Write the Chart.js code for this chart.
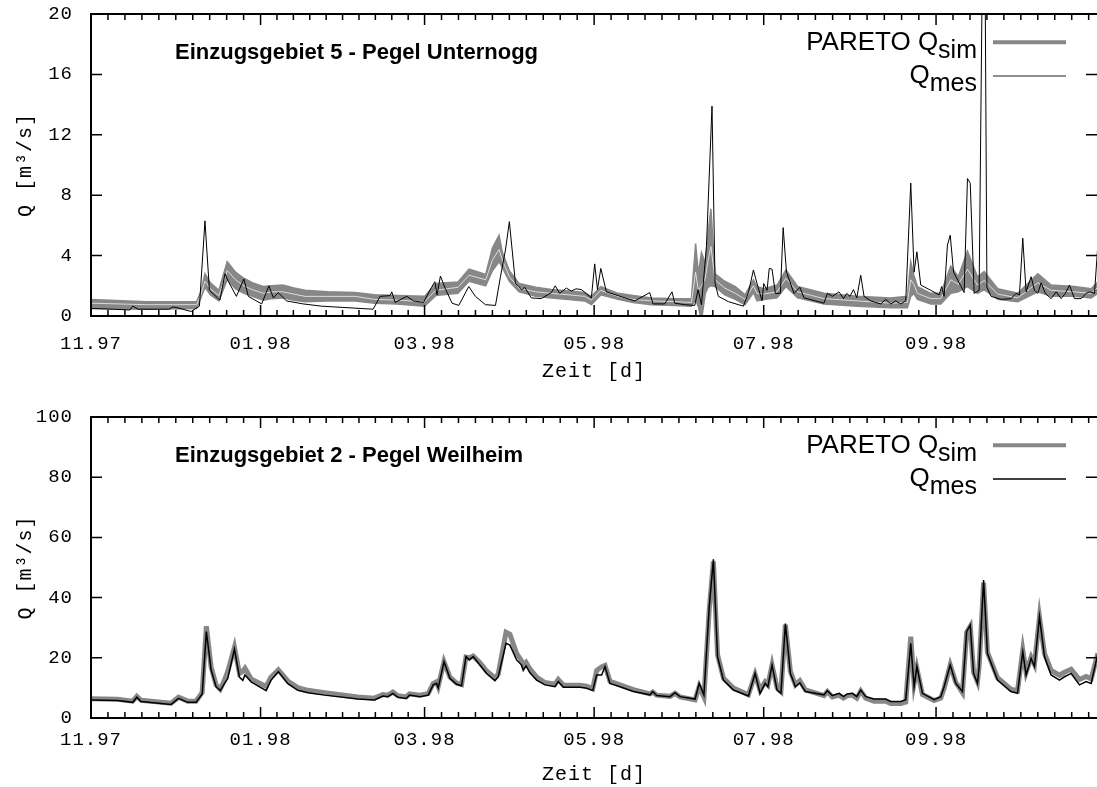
<!DOCTYPE html>
<html>
<head>
<meta charset="utf-8">
<script src="https://cdn.jsdelivr.net/npm/chart.js@4.4.1/dist/chart.umd.min.js"></script>
<style>
html, body { margin: 0; padding: 0; background: #fff; overflow: hidden; width: 1097px; height: 787px; }
.panel { position: absolute; left: 0; }
</style>
</head>
<body>
<div class="panel" style="top:0"><canvas id="chartTop" width="1097" height="393"></canvas></div>
<div class="panel" style="top:393px"><canvas id="chartBottom" width="1097" height="394"></canvas></div>
<script>
// x axis in days since 1.11.1997
const tickDays = [0, 61, 120, 181, 242, 304, 365];
const tickLabels = ['11.97', '01.98', '03.98', '05.98', '07.98', '09.98', '11.98'];

// Einzugsgebiet 5 - Pegel Unternogg : measured
const mesDaysTop = [0,8,14,15,17,24,28,29.5,32,36,
  39,41,42.6,46.4,48.2,49.4,52.3,55,56.6,61.4,
  64,65.6,67.4,70.3,76.3,83,101.5,104,107.6,108.2,
  109.4,113.6,116,119.6,122.5,123.7,124.5,125.7,127.5,129.9,
  132.3,135.9,138.3,141.9,145.5,147.3,149.1,150.5,152.7,153.9,
  155,156,158.4,162,165.6,167,168.6,171,172.8,174.5,
  176.4,180,181.2,182.2,183.4,185.4,189.6,195.6,201,202.2,
  206.4,209,210,213.6,217.2,218.4,219.6,221.4,223.4,224.5,
  225.7,229.3,234.7,236.5,238.3,239.6,241.4,242,243.2,244,
  245,246.2,248,249,250.2,252.9,255,256.5,263.7,264.9,
  266.7,269.1,270.7,271.9,273,274.3,275.5,276.9,278.1,280.5,
  284.1,285.9,287.7,289.5,291.3,293.1,294.9,296.1,297.1,298.5,
  302.1,305.1,306,306.9,308.1,309.1,310.3,312.9,314.1,315.3,
  316.3,317.7,319.5,320.7,321.6,322.3,323.8,327.4,331,332.8,
  334,335.2,336.4,338.2,339.4,340.6,341.8,343.3,345.4,347.2,
  349,350.5,352,353.8,356.2,358,359.2,361,362.2,363];
const mesTop = [0.5,0.45,0.4,0.65,0.45,0.45,0.45,0.6,0.5,0.3,
  0.65,6.3,1.7,1.05,2.8,2.3,1.3,2.45,1.3,0.8,
  2.0,1.2,1.55,1.0,0.8,0.65,0.45,1.3,1.35,1.6,
  0.9,1.3,1.0,0.9,1.9,2.27,1.4,2.65,1.8,0.85,
  0.7,1.95,1.3,0.75,0.7,2.6,4.37,6.25,2.15,1.95,
  1.75,1.9,1.2,1.15,1.55,2.0,1.5,1.85,1.65,1.8,
  1.75,1.2,3.45,1.75,3.15,1.6,1.35,1.0,1.55,0.8,
  0.8,1.6,0.85,0.75,0.7,1.75,0.75,4.6,13.9,2.15,
  1.3,0.95,0.65,1.55,3.05,2.15,1.0,2.15,1.7,3.15,
  3.1,1.5,1.5,5.85,2.9,1.5,1.9,1.2,0.85,1.5,
  1.3,1.6,1.15,1.5,1.3,1.75,1.2,2.7,1.3,1.0,
  0.8,1.1,0.8,1.0,0.8,1.0,8.8,2.9,4.25,2.05,
  1.7,1.4,1.95,1.3,4.7,5.35,2.9,2.0,1.55,9.1,
  8.8,1.5,1.7,24,24,1.9,1.3,1.1,1.15,1.5,
  1.4,5.15,1.6,2.6,1.7,1.5,2.2,1.5,1.15,1.6,
  1.15,1.5,2.05,1.15,1.15,1.5,1.6,1.5,4.7,5.0];

// Einzugsgebiet 5 : PARETO band (lower / upper / light inner run)
const simDaysTop = [0,20,38,39.5,41,43,46,49,52,55,
  58,62,65,69,73,77,85,95,102,110,
  120,124,132,136,142,144.4,146.8,148,150.5,154,
  160,165.6,172,177.6,180,183.4,189.6,195,201.6,210,
  216,217.5,218.5,219.6,221,222,223,224.5,228,231.8,
  235.3,238.3,239.6,242,246.8,250,254.2,263.7,275.7,287.7,
  293.7,294.9,296,297.3,302.1,305.7,309.3,312,315.3,318.9,
  321.3,326.2,333.4,340.6,345.4,353.8,359.8,362.2,363];
const simLowTop = [0.5,0.45,0.5,1.2,1.9,1.4,1.0,2.4,1.8,1.5,
  1.3,1.05,1.15,1.2,1.05,0.95,1.0,1.0,0.85,0.8,
  0.65,1.35,1.5,2.3,2.0,3.0,3.6,3.2,2.3,1.6,
  1.3,1.2,1.1,1.0,0.75,1.4,1.1,0.9,0.75,0.7,
  0.65,1.1,0.6,-0.3,1.5,1.9,2.0,1.95,1.4,1.1,
  0.75,1.55,1.0,1.1,1.2,1.95,1.2,0.8,0.65,0.55,
  0.55,1.3,1.5,1.1,0.8,0.8,1.5,1.6,1.95,1.5,
  1.75,1.1,0.95,1.6,1.3,1.3,1.2,1.5,1.5];
const simHighTop = [1.1,0.95,0.95,1.6,2.8,2.2,1.7,3.6,2.9,2.5,
  2.2,1.95,2.0,2.05,1.85,1.7,1.6,1.55,1.4,1.35,
  1.3,2.15,2.25,3.1,2.75,4.5,5.35,4.2,3.0,2.15,
  1.9,1.75,1.65,1.55,1.3,1.95,1.5,1.35,1.2,1.15,
  1.15,4.8,2.8,4.2,3.5,5.5,7.1,2.8,2.3,1.95,
  1.4,2.4,1.95,1.8,2.05,3.05,1.95,1.5,1.3,1.2,
  1.3,3.6,2.7,1.95,1.5,1.5,3.3,2.6,4.3,2.6,
  2.95,1.8,1.5,2.8,2.05,1.95,1.8,2.25,2.3];
const simInnerTop = [0.85,0.75,0.75,1.4,2.3,1.8,1.35,3.0,2.4,2.0,
  1.75,1.5,1.6,1.6,1.45,1.3,1.3,1.3,1.1,1.05,
  0.95,1.7,1.9,2.7,2.4,3.7,4.4,3.7,2.6,1.85,
  1.6,1.5,1.4,1.3,1.05,1.7,1.3,1.1,1.0,0.95,
  0.9,2.9,1.7,2.0,2.5,3.7,4.6,2.4,1.85,1.5,
  1.1,2.0,1.5,1.45,1.6,2.5,1.6,1.15,1.0,0.85,
  0.9,2.4,2.1,1.5,1.15,1.15,2.4,2.1,3.1,2.05,
  2.35,1.45,1.2,2.2,1.7,1.6,1.5,1.9,1.9];

// Einzugsgebiet 2 - Pegel Weilheim : measured and PARETO simulation
const daysBot = [0,9.6,15,16.5,18,28.8,31.5,34.8,37.8,40,
  41.5,43.2,45,46.5,48,49.2,51.6,53.4,54.6,55.4,
  57.6,63,64.7,67.4,70.8,74.4,78,84,96,102,
  105,106.8,108.6,110.4,113.4,114.6,118.3,121.3,123.1,124.3,
  124.9,127,129.1,131.5,133.3,134.9,136.1,137.5,139.9,142.3,
  145.3,146.5,149.3,150.7,153.1,154.9,155.5,156.5,157.9,160.3,
  163.3,166.9,168.1,169.9,175.9,178.3,180.5,181.9,183.7,184.9,
  186.7,190.3,195.1,201.1,202.1,203.5,208.3,210.1,211.9,217.3,
  218.8,220.5,222.4,223.9,225.4,227.5,231.1,236.5,238.9,240.7,
  242.5,243.5,245,246.8,248.2,249.8,251.6,253.4,255,257,
  263.7,264.9,266.7,269.1,270.7,272.1,273.9,275.5,276.9,278.7,
  281.7,285.9,287.7,291.3,293.1,294.9,296.1,297.1,299.1,303.3,
  305.7,306.9,309.1,311.1,313.5,315,316.3,317.5,318.9,319.5,
  321.1,322.5,326.1,330.9,333.3,335.2,336.4,338.2,339.4,341.2,
  343,345.4,348.4,350.2,352.6,355.6,358,359.8,362.2,363];
const mesBot = [6.0,5.8,5.2,6.9,5.5,4.5,6.5,5.2,5.2,8.0,
  28.7,16,10.4,9.1,11.4,13.1,22.9,13.6,12.5,14.3,
  12,9.1,12.5,15.4,11.4,9.2,8.4,7.6,6.3,6.0,
  7.3,7.1,8.2,6.9,6.5,7.6,7.1,7.6,11.0,11.5,
  10,18.7,13.2,11.2,10.7,20.4,19.3,20.4,17.6,14.8,
  12.4,13.7,24.8,24.2,19.3,17.6,15.8,17.3,15.0,12.6,
  11.0,10.4,12.1,10.2,10.2,9.9,9.1,14.3,14.3,17.1,
  11.5,10.4,8.8,7.7,8.8,7.5,7.1,8.4,7.1,6.3,
  11.5,7.7,37,52.7,20.4,12.6,9.3,7.3,14.8,8.2,
  11.5,10.4,17.6,9.3,8.2,31.4,14.8,10.4,11.7,8.8,
  7.7,9.1,7.4,8.2,7.1,8.0,8.2,7.1,9.3,7.1,
  6.3,6.3,5.5,5.5,6.1,24.8,10.4,17.1,8.2,6.1,
  7.1,10.4,17.6,11.5,8.8,28.7,30.9,14.8,11.5,17.1,
  45.8,21.4,12.6,8.8,8.2,22.0,14.3,19.8,17.1,33.7,
  20.4,14.3,12.6,13.7,14.8,11,12.1,11.5,21.4,23];
const simBot = [6.4,6.2,5.6,7.2,5.9,4.9,6.9,5.6,5.6,8.5,
  30.5,17,11,9.6,12.5,15.5,23.5,14.8,15.5,16.5,
  13,10.5,13.5,16,12.3,10.1,9.2,8.4,7.0,6.6,
  7.8,7.6,8.6,7.4,7.0,8.0,7.6,8.1,11.4,12.0,
  10.5,18.7,13.6,11.6,11.1,20.2,20.0,20.6,18.4,15.6,
  13.3,14.6,28.5,27.8,21.5,19,17.5,18.5,16.3,13.6,
  11.8,11.2,12.8,11,10.9,10.6,9.8,15.8,17,17.5,
  12.2,11,9.4,8.0,8.6,7.6,7.2,8.2,7.0,6.0,
  10.5,7.0,36,52,21,13.3,10,7.7,14.5,9.2,
  12,11,17.6,10,8.8,31,15.5,11,12.4,9.3,
  7.4,8.8,7.0,7.6,6.6,7.4,7.6,6.6,9,6.6,
  5.6,5.6,4.8,4.8,5.3,27,11.5,16.5,7.8,5.8,
  6.6,9.8,17.6,11.8,8.4,28.5,30.5,15.2,12,17.2,
  45,21.8,13.4,9.6,9.0,22.5,15.2,20.2,17.8,33.5,
  21.5,15.8,14.2,15.2,16.2,12.8,13.8,13,21.5,23];

const GRAY = '#878787';
const MONO = 'Liberation Mono';
const SANS = 'Liberation Sans';

function pts(xs, ys) {
  return xs.map((x, i) => ({ x: x, y: ys[i] }));
}

// gnuplot style frame, inward ticks, title and key
const gnuFrame = {
  id: 'gnuFrame',
  beforeDraw(chart) {
    chart.ctx.letterSpacing = '1px';
  },
  afterDraw(chart, args, opts) {
    const ctx = chart.ctx;
    const a = chart.chartArea;
    const xs = chart.scales.x, ys = chart.scales.y;
    ctx.save();
    ctx.strokeStyle = '#000';
    ctx.lineWidth = 1.5;
    ctx.beginPath();
    for (let i = 0; i < tickDays.length; i++) {
      const px = xs.getPixelForValue(tickDays[i]);
      if (tickDays[i] <= xs.max) {
        ctx.moveTo(px, a.bottom); ctx.lineTo(px, a.bottom - 11);
        ctx.moveTo(px, a.top); ctx.lineTo(px, a.top + 11);
      }
      if (i < tickDays.length - 1) {
        const step = (tickDays[i + 1] - tickDays[i]) / 10;
        for (let k = 1; k < 10; k++) {
          const d = tickDays[i] + k * step;
          if (d > xs.max) break;
          const mx = xs.getPixelForValue(d);
          ctx.moveTo(mx, a.bottom); ctx.lineTo(mx, a.bottom - 6);
          ctx.moveTo(mx, a.top); ctx.lineTo(mx, a.top + 6);
        }
      }
    }
    ys.ticks.forEach(t => {
      const py = ys.getPixelForValue(t.value);
      ctx.moveTo(a.left, py); ctx.lineTo(a.left + 11, py);
      ctx.moveTo(a.right, py); ctx.lineTo(a.right - 11, py);
    });
    ctx.stroke();
    // frame: right side lies just outside the picture
    ctx.lineWidth = 2;
    ctx.beginPath();
    ctx.moveTo(a.right + 1, a.top);
    ctx.lineTo(a.left, a.top);
    ctx.lineTo(a.left, a.bottom);
    ctx.lineTo(a.right + 1, a.bottom);
    ctx.stroke();

    // title
    ctx.letterSpacing = '0px';
    ctx.fillStyle = '#000';
    ctx.textAlign = 'left';
    ctx.textBaseline = 'alphabetic';
    ctx.font = 'bold 22px "' + SANS + '"';
    ctx.fillText(opts.title, 175, a.top + 45);

    // key
    const keyRight = 977;
    const drawKeyText = (main, sub, base) => {
      ctx.font = '25px "' + SANS + '"';
      const subW = ctx.measureText(sub).width;
      ctx.textAlign = 'right';
      ctx.fillText(sub, keyRight, base + 8);
      ctx.font = '26px "' + SANS + '"';
      ctx.fillText(main, keyRight - subW, base);
    };
    drawKeyText('PARETO Q', 'sim', a.top + 35.5);
    drawKeyText('Q', 'mes', a.top + 69.3);
    ctx.lineCap = 'butt';
    ctx.strokeStyle = GRAY;
    ctx.lineWidth = 4;
    ctx.beginPath(); ctx.moveTo(993, a.top + 28.3); ctx.lineTo(1066, a.top + 28.3); ctx.stroke();
    ctx.strokeStyle = opts.mesKeyColor;
    ctx.lineWidth = 1.5;
    ctx.beginPath(); ctx.moveTo(993, a.top + 62); ctx.lineTo(1066, a.top + 62); ctx.stroke();
    ctx.restore();
  }
};

function makeChart(id, cfg) {
  const canvas = document.getElementById(id);
  const axisH = canvas.height - cfg.areaBottom;
  return new Chart(canvas, {
    type: 'line',
    data: { datasets: cfg.datasets },
    options: {
      responsive: false,
      animation: false,
      events: [],
      devicePixelRatio: 1,
      layout: { padding: { top: cfg.areaTop, right: 0, left: 0, bottom: 0 } },
      elements: { point: { radius: 0 }, line: { tension: 0 } },
      scales: {
        x: {
          type: 'linear', bounds: 'data', min: 0, max: 361.9,
          afterBuildTicks: s => { s.ticks = tickDays.filter(d => d <= s.max).map(d => ({ value: d })); },
          afterFit: s => { s.height = axisH; s.paddingLeft = 0; s.paddingRight = 0; },
          grid: { display: false, drawTicks: false },
          border: { display: false },
          ticks: {
            autoSkip: false, maxRotation: 0, padding: cfg.xTickPad, color: '#000',
            font: { family: MONO, size: 19 },
            callback: v => tickLabels[tickDays.indexOf(v)]
          },
          title: {
            display: true, text: 'Zeit [d]', color: '#000',
            font: { family: MONO, size: 20 },
            padding: { top: 0, bottom: cfg.xTitlePad }
          }
        },
        y: {
          min: 0, max: cfg.yMax,
          afterFit: s => { s.width = 91; s.paddingTop = 0; s.paddingBottom = 0; },
          grid: { display: false, drawTicks: false },
          border: { display: false },
          ticks: { stepSize: cfg.yStep, padding: 18, color: '#000', font: { family: MONO, size: 19 } },
          title: {
            display: true, text: 'Q [m³/s]', color: '#000',
            font: { family: MONO, size: 20 },
            padding: { top: 14, bottom: 0 }
          }
        }
      },
      plugins: {
        legend: { display: false },
        tooltip: { enabled: false },
        gnuFrame: { title: cfg.title, mesKeyColor: cfg.mesKeyColor }
      }
    },
    plugins: [gnuFrame]
  });
}

makeChart('chartTop', {
  areaTop: 14, areaBottom: 316, xTickPad: 17, xTitlePad: 9,
  yMax: 20, yStep: 4,
  title: 'Einzugsgebiet 5 - Pegel Unternogg',
  mesKeyColor: '#6a6a6a',
  datasets: [
    { label: 'Qmes', data: pts(mesDaysTop, mesTop), borderColor: '#000', borderWidth: 1, order: 0 },
    { label: 'inner', data: pts(simDaysTop, simInnerTop), borderColor: 'rgba(235,235,235,0.85)', borderWidth: 1, order: 1 },
    { label: 'low', data: pts(simDaysTop, simLowTop), borderColor: GRAY, borderWidth: 1.5, order: 2 },
    { label: 'PARETO Qsim', data: pts(simDaysTop, simHighTop), borderColor: GRAY, borderWidth: 1.5,
      fill: '-1', backgroundColor: GRAY, order: 2 }
  ]
});

makeChart('chartBottom', {
  areaTop: 24, areaBottom: 325, xTickPad: 11, xTitlePad: 0,
  yMax: 100, yStep: 20,
  title: 'Einzugsgebiet 2 - Pegel Weilheim',
  mesKeyColor: '#000',
  datasets: [
    { label: 'Qmes', data: pts(daysBot, mesBot), borderColor: '#000', borderWidth: 1.5, order: 0 },
    { label: 'PARETO Qsim', data: pts(daysBot, simBot), borderColor: GRAY, borderWidth: 5, order: 1 }
  ]
});
</script>
</body>
</html>
